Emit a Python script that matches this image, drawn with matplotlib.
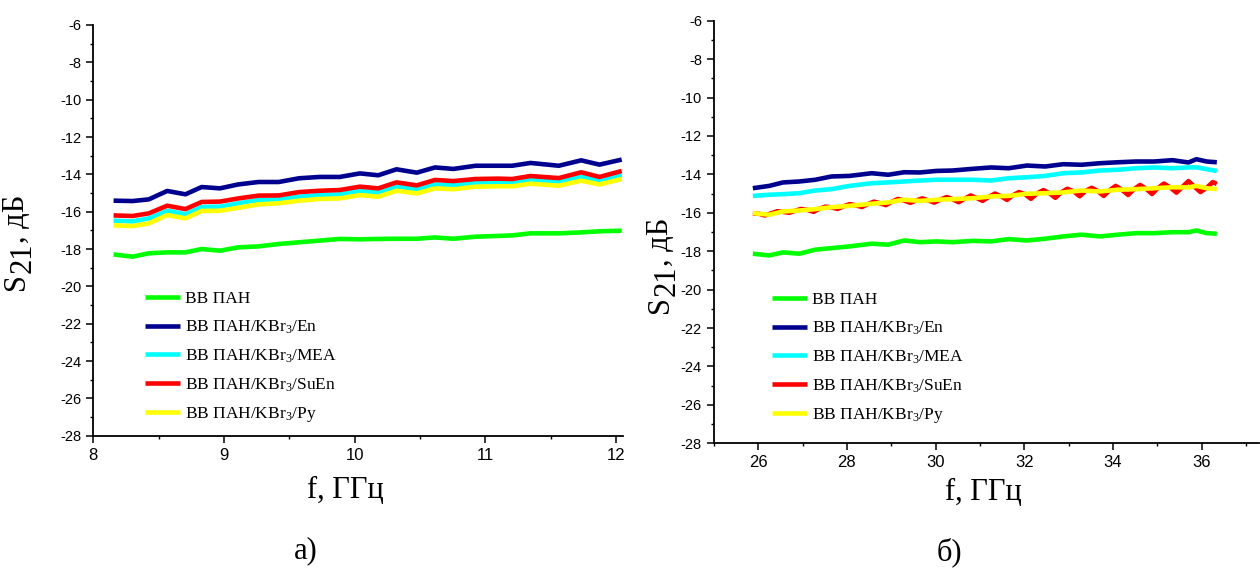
import matplotlib
matplotlib.use("Agg")
import matplotlib.pyplot as plt
from matplotlib.ticker import MultipleLocator
from matplotlib.transforms import IdentityTransform

plt.rcParams["font.family"] = ["Liberation Serif", "DejaVu Serif"]
plt.rcParams["mathtext.fontset"] = "custom"
plt.rcParams["mathtext.rm"] = "Liberation Serif"
plt.rcParams["mathtext.it"] = "Liberation Serif:italic"
plt.rcParams["axes.unicode_minus"] = False

W, H, DPI = 1260, 569, 100

# ---- series names and colours -------------------------------------------
labels = ["ВВ ПАН",
          "ВВ ПАН/KBr$_3$/En",
          "ВВ ПАН/KBr$_3$/MEA",
          "ВВ ПАН/KBr$_3$/SuEn",
          "ВВ ПАН/KBr$_3$/Py"]
colors = ["#00ff00", "#00008f", "#00ffff", "#ff0000", "#ffff00"]

# ---- panel a): 8-12 GHz ---------------------------------------------------
f_a = [8.155, 8.301, 8.425, 8.565, 8.705, 8.829, 8.969, 9.109, 9.264, 9.419,
       9.575, 9.730, 9.885, 10.040, 10.180, 10.320, 10.475, 10.615, 10.755,
       10.925, 11.096, 11.205, 11.345, 11.562, 11.733, 11.873, 12.043]
pan_a = [-18.29, -18.41, -18.23, -18.18, -18.18, -18.00, -18.09, -17.91, -17.86,
         -17.73, -17.64, -17.55, -17.46, -17.48, -17.46, -17.45, -17.45, -17.38,
         -17.45, -17.34, -17.30, -17.27, -17.16, -17.16, -17.11, -17.05, -17.02]
en_a = [-15.41, -15.43, -15.34, -14.89, -15.07, -14.68, -14.75, -14.54, -14.41,
        -14.41, -14.21, -14.14, -14.14, -13.95, -14.05, -13.73, -13.91, -13.63,
        -13.71, -13.54, -13.54, -13.54, -13.39, -13.54, -13.25, -13.48, -13.21]
mea_a = [-16.48, -16.52, -16.36, -15.95, -16.13, -15.75, -15.73, -15.55, -15.38,
         -15.34, -15.20, -15.11, -15.07, -14.89, -14.98, -14.66, -14.80, -14.54,
         -14.59, -14.45, -14.43, -14.45, -14.30, -14.39, -14.13, -14.36, -14.04]
suen_a = [-16.20, -16.23, -16.09, -15.68, -15.86, -15.48, -15.46, -15.29, -15.14,
          -15.13, -14.95, -14.88, -14.84, -14.66, -14.75, -14.43, -14.59, -14.30,
          -14.36, -14.25, -14.23, -14.25, -14.09, -14.20, -13.89, -14.14, -13.82]
py_a = [-16.73, -16.77, -16.63, -16.18, -16.36, -15.96, -15.95, -15.79, -15.61,
        -15.55, -15.41, -15.32, -15.29, -15.11, -15.20, -14.88, -15.02, -14.75,
        -14.80, -14.66, -14.64, -14.64, -14.50, -14.61, -14.34, -14.54, -14.25]

# ---- panel б): 26-36 GHz --------------------------------------------------
f_b = [25.88, 26.25, 26.56, 26.93, 27.29, 27.65, 28.06, 28.56, 28.93, 29.29,
       29.65, 30.02, 30.38, 30.84, 31.25, 31.65, 32.06, 32.47, 32.88, 33.29,
       33.70, 34.11, 34.52, 34.93, 35.34, 35.70, 35.88, 36.11, 36.34]
pan_b = [-18.13, -18.22, -18.06, -18.13, -17.92, -17.84, -17.75, -17.61, -17.66,
         -17.44, -17.53, -17.49, -17.53, -17.46, -17.49, -17.37, -17.44, -17.35,
         -17.23, -17.14, -17.23, -17.14, -17.06, -17.06, -17.01, -17.01, -16.92,
         -17.06, -17.09]
en_b = [-14.72, -14.60, -14.42, -14.37, -14.28, -14.11, -14.08, -13.94, -14.02,
        -13.89, -13.90, -13.82, -13.80, -13.71, -13.64, -13.68, -13.54, -13.59,
        -13.47, -13.50, -13.42, -13.37, -13.33, -13.33, -13.26, -13.38, -13.21,
        -13.33, -13.37]
mea_b = [-15.12, -15.06, -15.03, -14.98, -14.84, -14.77, -14.60, -14.46, -14.42,
         -14.37, -14.32, -14.28, -14.28, -14.28, -14.32, -14.20, -14.15, -14.08,
         -13.94, -13.90, -13.80, -13.76, -13.68, -13.64, -13.68, -13.64, -13.63,
         -13.73, -13.82]
py_b = [-16.02, -16.10, -15.93, -15.88, -15.81, -15.71, -15.64, -15.53, -15.46,
        -15.32, -15.38, -15.32, -15.29, -15.24, -15.15, -15.12, -15.01, -14.98,
        -14.94, -14.84, -14.89, -14.80, -14.77, -14.72, -14.67, -14.68, -14.60,
        -14.72, -14.77]
# the SuEn sample ripples faster, so it is sampled on its own, denser grid
f_b_suen = [25.88, 26.02, 26.15, 26.29, 26.43, 26.56, 26.70, 26.84, 26.97, 27.11,
            27.25, 27.38, 27.52, 27.65, 27.79, 27.92, 28.06, 28.20, 28.34, 28.47,
            28.61, 28.74, 28.88, 29.02, 29.15, 29.29, 29.43, 29.56, 29.70, 29.83,
            29.97, 30.11, 30.25, 30.38, 30.52, 30.65, 30.79, 30.92, 31.06, 31.20,
            31.34, 31.47, 31.61, 31.74, 31.88, 32.01, 32.15, 32.29, 32.43, 32.56,
            32.70, 32.83, 32.97, 33.11, 33.25, 33.38, 33.52, 33.65, 33.79, 33.92,
            34.06, 34.20, 34.34, 34.47, 34.61, 34.74, 34.88, 35.01, 35.15, 35.29,
            35.43, 35.56, 35.70, 35.83, 35.97, 36.11, 36.25, 36.34]
suen_b = [-16.05, -16.05, -16.14, -16.03, -15.92, -15.95, -16.00, -15.89, -15.80,
          -15.85, -15.95, -15.79, -15.68, -15.72, -15.80, -15.67, -15.55, -15.61,
          -15.70, -15.55, -15.42, -15.50, -15.60, -15.42, -15.28, -15.36, -15.48,
          -15.36, -15.25, -15.35, -15.47, -15.31, -15.18, -15.29, -15.45, -15.27,
          -15.10, -15.22, -15.38, -15.17, -15.00, -15.13, -15.33, -15.09, -14.92,
          -15.03, -15.27, -14.99, -14.82, -14.97, -15.22, -14.94, -14.75, -14.88,
          -15.14, -14.86, -14.70, -14.86, -15.12, -14.83, -14.60, -14.80, -15.07,
          -14.78, -14.55, -14.74, -15.02, -14.71, -14.48, -14.68, -14.95, -14.66,
          -14.35, -14.63, -14.92, -14.70, -14.40, -14.50]

yticks = [-28, -26, -24, -22, -20, -18, -16, -14, -12, -10, -8, -6]

fig = plt.figure(figsize=(W / DPI, H / DPI), dpi=DPI)
ax_a = fig.add_axes([0.07405, 0.23427, 0.42008, 0.72180])
ax_b = fig.add_axes([0.56651, 0.22091, 0.43302, 0.74271])

panels = [
    (ax_a, [(f_a, pan_a), (f_a, en_a), (f_a, mea_a), (f_a, suen_a), (f_a, py_a)],
     (8, 12.05), 1, 0.5, (145, 291)),
    (ax_b, [(f_b, pan_b), (f_b, en_b), (f_b, mea_b), (f_b_suen, suen_b), (f_b, py_b)],
     (25, 37.3), 2, 1, (772, 292)),
]

for ax, series, xlim, xmaj, xmin, leg_xy in panels:
    for (fx, fy), lab, col in zip(series, labels, colors):
        ax.plot(fx, fy, color=col, lw=3.3, label=lab,
                solid_joinstyle="round", solid_capstyle="butt")
    ax.set_xlim(*xlim)
    ax.set_ylim(-28, -6)
    ax.set_yticks(yticks)
    ax.set_yticklabels([str(v) for v in yticks])
    ax.yaxis.set_minor_locator(MultipleLocator(1))
    ax.xaxis.set_major_locator(MultipleLocator(xmaj))
    ax.xaxis.set_minor_locator(MultipleLocator(xmin))
    for side in ("top", "right"):
        ax.spines[side].set_visible(False)
    for side in ("left", "bottom"):
        ax.spines[side].set_linewidth(1.3)
    ax.tick_params(which="major", direction="out", length=5, width=1.1, pad=3.5)
    ax.tick_params(which="minor", direction="out", length=2.5, width=1.0)
    for t in ax.get_yticklabels():
        t.set_fontfamily("Liberation Sans")
        t.set_fontsize(10.5)
    for t in ax.get_xticklabels():
        t.set_fontfamily("Liberation Sans")
        t.set_fontsize(12)
    ax.patch.set_visible(False)
    lx, ly = leg_xy
    ax.legend(loc="upper left", bbox_to_anchor=(lx / W, 1 - ly / H),
              bbox_transform=fig.transFigure, frameon=False,
              prop={"family": "Liberation Serif", "size": 12.5},
              handlelength=2.0, handletextpad=0.3, labelspacing=0.66,
              borderpad=0, borderaxespad=0)

# axis titles
fig.text(345, H - 490, "f, ГГц", transform=IdentityTransform(),
         ha="center", va="center", fontsize=22)
fig.text(983, H - 492, "f, ГГц", transform=IdentityTransform(),
         ha="center", va="center", fontsize=22)
fig.text(306, H - 551, "а)", transform=IdentityTransform(),
         ha="center", va="center", fontsize=22)
fig.text(949, H - 552, "б)", transform=IdentityTransform(),
         ha="center", va="center", fontsize=22)

# vertical "S21, дБ" titles with a lowered, full-size index
renderer = fig.canvas.get_renderer()


def vertical_title(x_base, y_start, size=22, drop=7):
    y = y_start
    for part, dx in (("S", 0), ("21", drop), (", дБ", 0)):
        t = fig.text(x_base + dx, y, part, transform=IdentityTransform(),
                     rotation=90, rotation_mode="anchor", ha="left",
                     va="baseline", fontsize=size, family="Liberation Serif")
        y += t.get_window_extent(renderer=renderer).height


vertical_title(24, H - 290)
vertical_title(668, H - 313)

fig.savefig("out.png", dpi=DPI)
